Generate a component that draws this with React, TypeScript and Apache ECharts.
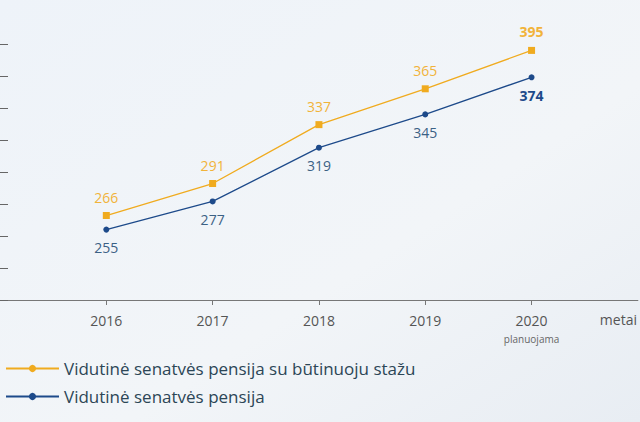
import React, { useEffect, useRef } from "react";
import * as echarts from "echarts";

const years = [2016, 2017, 2018, 2019, 2020];
const withService = [266, 291, 337, 365, 395];
const average = [255, 277, 319, 345, 374];
const seriesNames = [
  "Vidutinė senatvės pensija su būtinuoju stažu",
  "Vidutinė senatvės pensija",
];
const yTicks = [200, 225, 250, 275, 300, 325, 350, 375, 400];

export default function App() {
  const ref = useRef<HTMLDivElement>(null);
  useEffect(() => {
    const chart = echarts.init(ref.current!, null, { renderer: "svg" });
    const last = years.length - 1;
    chart.setOption({
      animation: false,
      backgroundColor: {
        type: "linear",
        x: 0, y: 0, x2: 1, y2: 1,
        colorStops: [
          { offset: 0, color: "#eef3f9" },
          { offset: 0.6, color: "#f2f5f8" },
          { offset: 1, color: "#e8edf3" },
        ],
      },
      textStyle: { fontFamily: "Open Sans" },
      grid: { left: 0, right: 0, top: 44, bottom: 122 },
      legend: {
        orient: "vertical",
        left: 0,
        top: 355,
        itemWidth: 53,
        itemHeight: 9,
        itemGap: 11,
        textStyle: { fontSize: 17, color: "#2c4656", fontFamily: "Open Sans" },
        data: seriesNames,
      },
      xAxis: {
        type: "value",
        min: years[0] - 1,
        max: years[last] + 1,
        interval: 1,
        name: "metai",
        nameLocation: "end",
        nameGap: -38,
        nameTextStyle: { fontSize: 14, color: "#555", verticalAlign: "top", padding: [12, 0, 0, 0] },
        splitLine: { show: false },
        axisLine: { lineStyle: { color: "#777", width: 1 } },
        axisTick: { customValues: years, length: 5, lineStyle: { color: "#777" } },
        axisLabel: {
          customValues: years,
          margin: 12,
          fontSize: 14,
          color: "#555",
          lineHeight: 17,
          formatter: (v: number) =>
            v === years[last] ? `${v}\n{s|planuojama}` : `${v}`,
          rich: { s: { fontSize: 10, color: "#666", lineHeight: 15, verticalAlign: "bottom" } },
        },
      },
      yAxis: {
        type: "value",
        min: yTicks[0],
        max: yTicks[yTicks.length - 1],
        interval: 25,
        axisLine: { show: false },
        axisTick: { show: true, inside: true, length: 8, lineStyle: { color: "#666" } },
        axisLabel: { show: false },
        splitLine: { show: false },
      },
      series: [
        {
          name: seriesNames[0],
          type: "line",
          symbol: "circle",
          symbolSize: 7,
          color: "#f0ab1f",
          lineStyle: { width: 1.3, color: "#f0ab1f" },
          data: years.map((y, i) => ({
            value: [y, withService[i]],
            symbol: "rect",
            label: {
              show: true,
              position: "top",
              distance: 8,
              fontSize: 14,
              color: "#f1b33a",
              fontWeight: i === last ? "bold" : "normal",
            },
          })),
        },
        {
          name: seriesNames[1],
          type: "line",
          symbol: "circle",
          symbolSize: 6,
          color: "#1d4a8a",
          lineStyle: { width: 1.3, color: "#1d4a8a" },
          data: years.map((y, i) => ({
            value: [y, average[i]],
            label: {
              show: true,
              position: "bottom",
              distance: 8,
              fontSize: 14,
              color: i === last ? "#1d4a8a" : "#3b6185",
              fontWeight: i === last ? "bold" : "normal",
            },
          })),
        },
      ],
    });
    return () => chart.dispose();
  }, []);
  return <div ref={ref} style={{ width: 640, height: 422, position: "fixed", left: 0, top: 0 }} />;
}
